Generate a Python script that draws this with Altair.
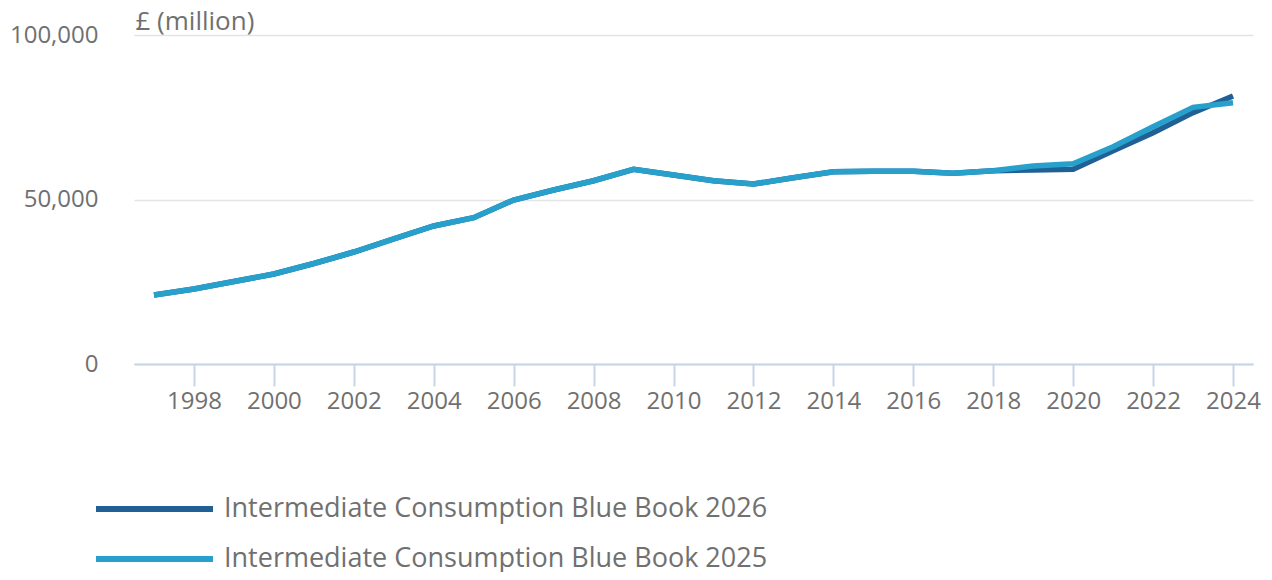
import altair as alt
import pandas as pd

years = list(range(1997, 2025))
bb2026 = [20970, 22800, 25080, 27360, 30550, 34040, 38000, 41950, 44470, 49850,
          52900, 55700, 59180, 57450, 55700, 54700, 56600, 58450, 58560, 58560,
          57960, 58750, 59000, 59180, 64830, 70300, 76400, 81460]
bb2025 = [20970, 22800, 25080, 27360, 30550, 34040, 38000, 41950, 44470, 49850,
          52900, 55700, 59180, 57450, 55700, 54700, 56600, 58450, 58560, 58560,
          57960, 58750, 60180, 60880, 66050, 72130, 78020, 79430]
series_names = ["Intermediate Consumption Blue Book 2026",
                "Intermediate Consumption Blue Book 2025"]
series_colors = ["#206095", "#27a0cc"]
x_ticks = list(range(1998, 2025, 2))
y_ticks = [0, 50000, 100000]

rows = []
for name, vals in zip(series_names, [bb2026, bb2025]):
    for y, v in zip(years, vals):
        rows.append({"year": y, "value": v, "series": name})
df = pd.DataFrame(rows)

TXT = "#707070"
FONT = "Open Sans"

base = alt.Chart(df).mark_line(strokeWidth=5.5).encode(
    x=alt.X("year:Q",
            scale=alt.Scale(domain=[1996.5, 2024.5], nice=False, zero=False),
            axis=alt.Axis(values=x_ticks, format="d", title=None, grid=False,
                          domainColor="#c8d4e8", domainWidth=2,
                          tickColor="#c8d4e8", tickWidth=2, tickSize=22,
                          labelPadding=3, labelFontSize=24, labelColor=TXT,
                          labelFont=FONT)),
    y=alt.Y("value:Q",
            scale=alt.Scale(domain=[0, 100000], nice=False),
            axis=alt.Axis(values=y_ticks, format=",d", title="£ (million)",
                          titleAngle=0, titleAlign="left", titleBaseline="alphabetic",
                          titleX=1, titleY=-6, titleFontSize=26, titleFontWeight="normal",
                          titleColor=TXT, titleFont=FONT,
                          domain=False, ticks=False, grid=True,
                          gridColor="#e4e4e4", gridWidth=1.5,
                          labelPadding=36, labelFontSize=24, labelColor=TXT,
                          labelFont=FONT)),
    color=alt.Color("series:N",
                    scale=alt.Scale(domain=series_names, range=series_colors),
                    sort=series_names,
                    legend=alt.Legend(title=None, orient="none", legendX=-41, legendY=460,
                                      direction="vertical", symbolType="stroke",
                                      symbolSize=13689, symbolStrokeWidth=6,
                                      clipHeight=28, rowPadding=22, padding=0,
                                      labelOffset=8, labelFontSize=27, labelLimit=0,
                                      labelColor=TXT, labelFont=FONT)),
)

dark = base.transform_filter(alt.datum.series == series_names[0])
light = base.transform_filter(alt.datum.series == series_names[1])

chart = alt.layer(dark, light).properties(
    width=1119, height=329,
    padding={"left": 126, "top": 27, "right": 10, "bottom": 208},
    autosize=alt.AutoSizeParams(type="none"),
).configure(font=FONT).configure_view(strokeWidth=0, stroke="transparent")

chart.save("out.html", embed_options={"renderer": "svg", "actions": False})
